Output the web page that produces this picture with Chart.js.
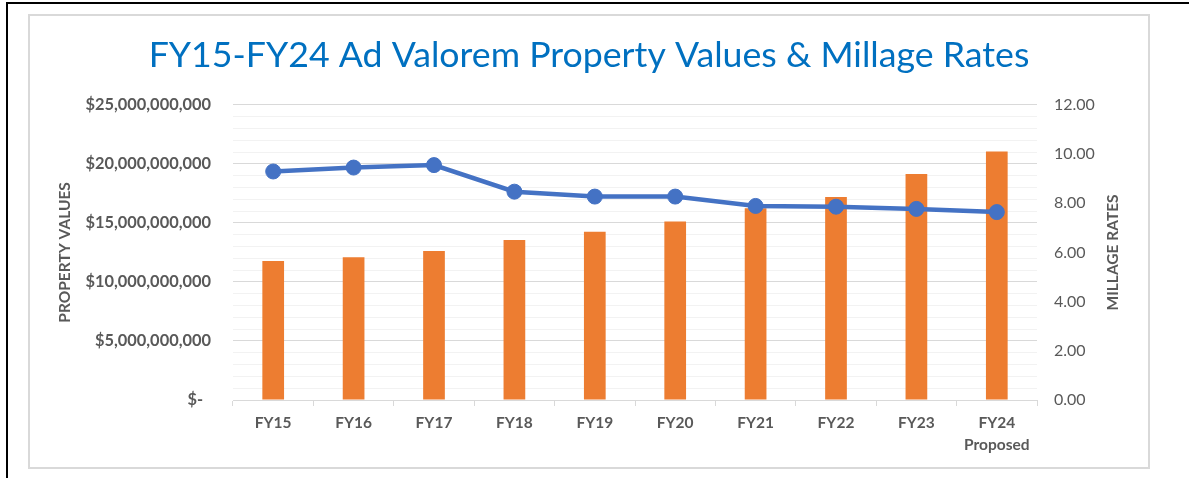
<!DOCTYPE html>
<html>
<head>
<meta charset="utf-8">
<script src="https://cdn.jsdelivr.net/npm/chart.js@4"></script>
<style>
  html, body { margin: 0; padding: 0; background: #fff; }
  body { width: 1189px; height: 478px; position: relative; overflow: hidden; }
  #frameTop { position: absolute; left: 6px; top: 2px; width: 1183px; height: 2px; background: #000; }
  #frameLeft { position: absolute; left: 6px; top: 2px; width: 2px; height: 476px; background: #000; }
  #box { position: absolute; left: 28px; top: 14px; width: 1118px; height: 451px; border: 2px solid #d9d9d9; }
</style>
</head>
<body>
<div id="frameTop"></div>
<div id="frameLeft"></div>
<div id="box"><canvas id="chart" width="1118" height="451"></canvas></div>
<script>
// values
const categories = ['FY15', 'FY16', 'FY17', 'FY18', 'FY19', 'FY20', 'FY21', 'FY22', 'FY23', ['FY24', 'Proposed']];
const propertyValues = [11.78e9, 12.09e9, 12.63e9, 13.56e9, 14.26e9, 15.11e9, 16.25e9, 17.2e9, 19.15e9, 21.04e9];
const millageRates = [9.29, 9.45, 9.55, 8.47, 8.27, 8.27, 7.89, 7.86, 7.77, 7.64];

const FONT = 'Lato, "Open Sans", sans-serif';
const GREY = '#595959';

// right axis title reads bottom-to-top like the left one
const rightTitle = {
  id: 'rightTitle',
  afterDraw(chart) {
    const ctx = chart.ctx, a = chart.chartArea;
    ctx.save();
    ctx.translate(1083, (a.top + a.bottom) / 2);
    ctx.rotate(-Math.PI / 2);
    ctx.font = 'bold 15.5px ' + FONT;
    ctx.fillStyle = GREY;
    ctx.textAlign = 'center';
    ctx.textBaseline = 'middle';
    ctx.fillText('MILLAGE RATES', 0, 0);
    ctx.restore();
  }
};

new Chart(document.getElementById('chart'), {
  data: {
    labels: categories,
    datasets: [
      {
        type: 'line', label: 'Millage Rate', data: millageRates, yAxisID: 'yR', order: 0,
        borderColor: '#4472C4', backgroundColor: '#4472C4', borderWidth: 4.5,
        pointRadius: 7.5, pointBorderWidth: 1, tension: 0
      },
      {
        type: 'bar', label: 'Property Values', data: propertyValues, yAxisID: 'yL', order: 1,
        backgroundColor: '#ED7D31', categoryPercentage: 1, barPercentage: 0.27
      }
    ]
  },
  options: {
    responsive: false,
    animation: false,
    layout: { padding: 0 },
    plugins: {
      legend: { display: false },
      tooltip: { enabled: false },
      title: {
        display: true,
        text: 'FY15-FY24 Ad Valorem Property Values & Millage Rates',
        color: '#0070C0',
        font: { family: FONT, size: 35.7, weight: 'normal', lineHeight: 1.2 },
        padding: { top: 18, bottom: 28 }
      }
    },
    scales: {
      x: {
        grid: { offset: true, drawOnChartArea: false, drawTicks: true, tickLength: 6, tickColor: '#d9d9d9' },
        border: { color: '#d9d9d9' },
        ticks: { color: GREY, font: { family: FONT, size: 15.5, weight: 'bold', lineHeight: 1.42 }, padding: 6, maxRotation: 0, autoSkip: false },
        afterFit(s) { s.height = 67; }
      },
      yL: {
        position: 'left', min: 0, max: 25e9,
        grid: {
          drawTicks: false,
          color: c => (c.tick && c.tick.value % 5e9 === 0) ? '#d9d9d9' : '#f2f2f2'
        },
        border: { display: false },
        ticks: {
          stepSize: 1e9, autoSkip: false, padding: 22, color: GREY,
          font: { family: FONT, size: 16.4, weight: 'bold' },
          callback: v => v % 5e9 !== 0 ? '' : (v === 0 ? '$-  ' : '$' + v.toLocaleString('en-US'))
        },
        title: {
          display: true, text: 'PROPERTY VALUES', color: GREY,
          font: { family: FONT, size: 15.5, weight: 'bold' }, padding: { top: 25.7, bottom: 0 }
        },
        afterFit(s) { s.width = 203; }
      },
      yR: {
        position: 'right', min: 0, max: 12,
        grid: { drawOnChartArea: false, drawTicks: false },
        border: { display: false },
        ticks: {
          stepSize: 2, padding: 17, color: GREY,
          font: { family: FONT, size: 16 },
          callback: v => v.toFixed(2)
        },
        afterFit(s) { s.width = 111; }
      }
    }
  },
  plugins: [rightTitle]
});
</script>
</body>
</html>
